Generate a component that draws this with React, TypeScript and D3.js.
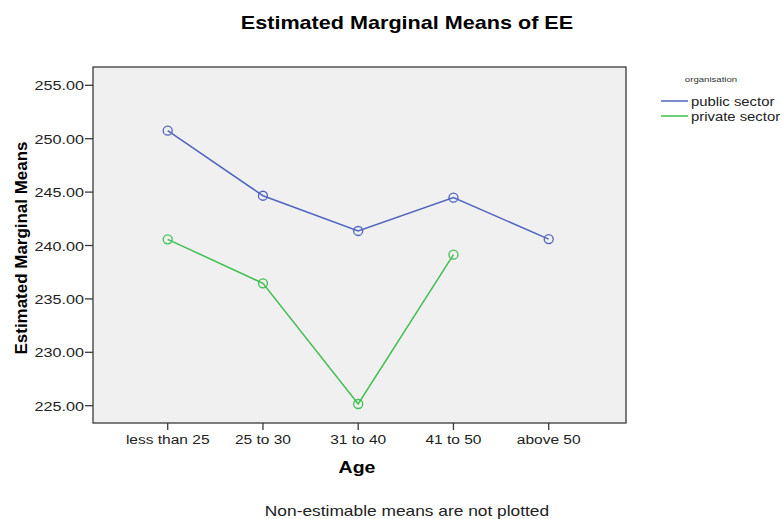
import React from "react";
import * as d3 from "d3";

const categories = ["less than 25", "25 to 30", "31 to 40", "41 to 50", "above 50"];
const publicSector = [250.75, 244.66, 241.36, 244.48, 240.6];
const privateSector: (number | null)[] = [240.58, 236.46, 225.16, 239.14, null];
const yTicks = [225, 230, 235, 240, 245, 250, 255];
const seriesNames = ["public sector", "private sector"];
const seriesColors = ["#5064c0", "#3fbf50"];

function T({ x, y, sx = 1.2, rotate = 0, children, ...rest }: any) {
  return (
    <text transform={`translate(${x},${y}) rotate(${rotate}) scale(${sx},1)`} {...rest}>
      {children}
    </text>
  );
}

export default function App() {
  const W = 782, H = 519;
  const frame = { left: 93, right: 626, top: 67, bottom: 423 };
  const y = d3.scaleLinear().domain([225, 255]).range([405.7, 85.3]);
  const x = d3.scalePoint<string>().domain(categories).range([167.7, 548.7]);
  const series = [publicSector, privateSector];
  const line = d3
    .line<number | null>()
    .defined((d) => d != null)
    .x((_, i) => x(categories[i])!)
    .y((d) => y(d as number));
  const font = "'Liberation Sans', Arial, sans-serif";

  return (
    <svg width={W} height={H} style={{ position: "absolute", left: 0, top: 0, background: "#fff" }} fontFamily={font}>
      <T x={407} y={29} sx={1.2} textAnchor="middle" fontSize={18} fontWeight="bold" fill="#000">
        Estimated Marginal Means of EE
      </T>
      <rect x={frame.left} y={frame.top} width={frame.right - frame.left} height={frame.bottom - frame.top} fill="#f0f0f0" stroke="#3a3a3a" strokeWidth={1.3} />
      {yTicks.map((t) => (
        <g key={t}>
          <line x1={frame.left - 8} x2={frame.left} y1={y(t)} y2={y(t)} stroke="#3a3a3a" strokeWidth={1.3} />
          <T x={frame.left - 9} y={y(t) + 5} sx={1.2} textAnchor="end" fontSize={13.5} fill="#222">
            {t.toFixed(2)}
          </T>
        </g>
      ))}
      {categories.map((c) => (
        <g key={c}>
          <line x1={x(c)} x2={x(c)} y1={frame.bottom} y2={frame.bottom + 7} stroke="#3a3a3a" strokeWidth={1.3} />
          <T x={x(c)} y={frame.bottom + 21} sx={1.15} textAnchor="middle" fontSize={13.5} fill="#222">
            {c}
          </T>
        </g>
      ))}
      <T x={357} y={473} sx={1.15} textAnchor="middle" fontSize={17} fontWeight="bold" fill="#000">Age</T>
      <T x={27} y={248} rotate={-90} sx={1.0} textAnchor="middle" fontSize={16} fontWeight="bold" fill="#000" textLength={213} lengthAdjust="spacingAndGlyphs">
        Estimated Marginal Means
      </T>
      <T x={407} y={516} sx={1.24} textAnchor="middle" fontSize={14} fill="#222">Non-estimable means are not plotted</T>
      {series.map((s, si) => (
        <g key={si}>
          <path d={line(s) || ""} fill="none" stroke={seriesColors[si]} strokeWidth={1.5} />
          {s.map((v, i) =>
            v == null ? null : (
              <circle key={i} cx={x(categories[i])} cy={y(v)} r={4.5} fill="none" stroke={seriesColors[si]} strokeWidth={1.3} />
            )
          )}
        </g>
      ))}
      <T x={711} y={82} sx={1.2} textAnchor="middle" fontSize={8} fill="#333">organisation</T>
      {seriesNames.map((n, i) => (
        <g key={n}>
          <line x1={661} x2={688} y1={101 + i * 15} y2={101 + i * 15} stroke={seriesColors[i]} strokeWidth={1.5} />
          <T x={691} y={101 + i * 15 + 5} sx={1.1} fontSize={13.5} fill="#222">{n}</T>
        </g>
      ))}
    </svg>
  );
}
